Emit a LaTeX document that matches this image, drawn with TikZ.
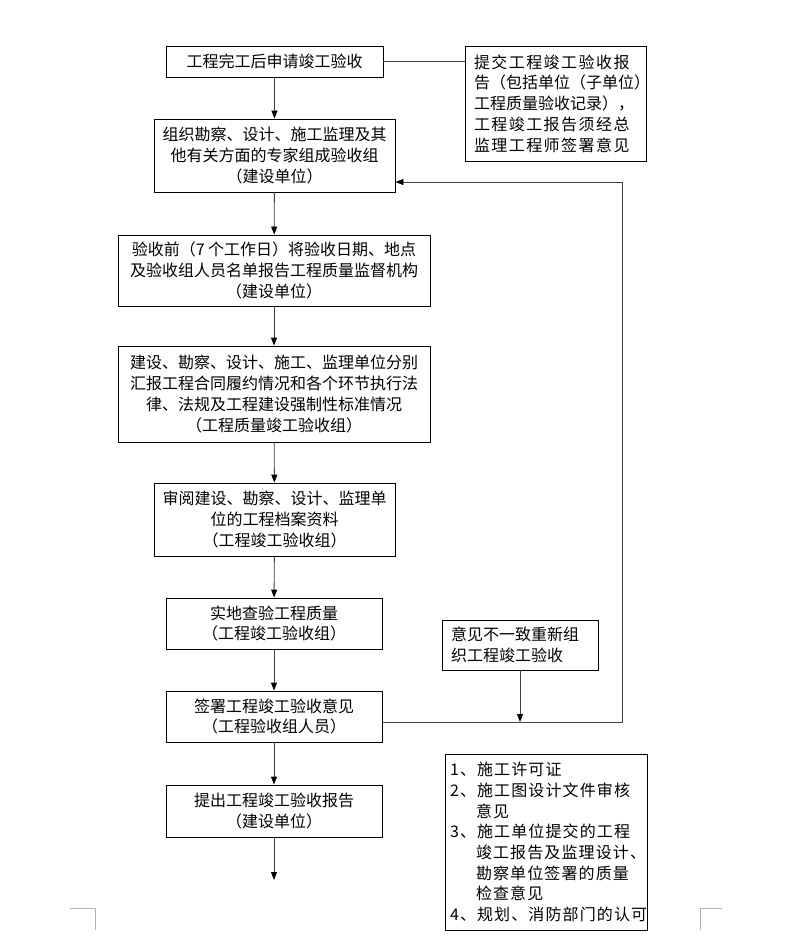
\documentclass[tikz,border=0pt]{standalone}
\usepackage{fontspec}
\setmainfont{Noto Sans CJK SC}
\newfontfamily\spacedA[LetterSpace=9]{Noto Sans CJK SC}
\newfontfamily\spacedB[LetterSpace=7]{Noto Sans CJK SC}
\usetikzlibrary{arrows.meta}
\tikzset{
  box/.style={draw=black, line width=0.9pt, rectangle, inner sep=0pt, align=center,
    font=\fontsize{16}{20.7}\selectfont},
  lbox/.style={draw=black, line width=0.9pt, rectangle, inner xsep=9pt, inner ysep=0pt, align=left,
    font=\fontsize{16}{20.7}\selectfont},
  arr/.style={draw=black!75, line width=0.9pt, -{Triangle[length=8pt,width=6pt,fill=black,color=black]}},
  ln/.style={draw=black!75, line width=0.9pt},
  cornermark/.style={draw=black!30, line width=0.8pt}
}
\begin{document}
\begin{tikzpicture}[x=1pt,y=-1pt]
\useasboundingbox (0,0) rectangle (795,940);
\fill[white] (0,0) rectangle (795,940);

\node[box, minimum width=217pt, minimum height=31pt] (B1) at (274.5,61.5) {工程完工后申请竣工验收};
\node[lbox, minimum width=181pt, minimum height=115pt, text width=163pt] (R1) at (555.5,103.5)
  {{\spacedA 提交工程竣工验收报}\\告（包括单位（子单位）\\工程质量验收记录），\\{\spacedA 工程竣工报告须经总}\\{\spacedA 监理工程师签署意见}};
\node[box, minimum width=241pt, minimum height=73pt] (B2) at (274.5,155.5)
  {组织勘察、设计、施工监理及其\\他有关方面的专家组成验收组\\（建设单位）};
\node[box, minimum width=312pt, minimum height=71pt] (B3) at (274,270.5)
  {验收前（7 个工作日）将验收日期、地点\\及验收组人员名单报告工程质量监督机构\\（建设单位）};
\node[box, minimum width=312pt, minimum height=96pt] (B4) at (274,394)
  {建设、勘察、设计、施工、监理单位分别\\汇报工程合同履约情况和各个环节执行法\\律、法规及工程建设强制性标准情况\\（工程质量竣工验收组）};
\node[box, minimum width=241pt, minimum height=73pt] (B5) at (274.5,519.5)
  {审阅建设、勘察、设计、监理单\\位的工程档案资料\\（工程竣工验收组）};
\node[box, minimum width=216pt, minimum height=51pt] (B6) at (274,623.5)
  {实地查验工程质量\\（工程竣工验收组）};
\node[box, minimum width=216pt, minimum height=51pt] (B7) at (274,716.5)
  {签署工程竣工验收意见\\（工程验收组人员）};
\node[box, minimum width=216pt, minimum height=52pt] (B8) at (274,811)
  {提出工程竣工验收报告\\（建设单位）};
\node[lbox, minimum width=156pt, minimum height=50pt, text width=138pt] (R2) at (520,645)
  {意见不一致重新组\\织工程竣工验收};
\node[lbox, minimum width=202pt, minimum height=176pt, text width=192pt, inner xsep=4pt,
  font=\fontsize{16}{20.7}\spacedB] (R3) at (546,842)
  {1、施工许可证\\2、施工图设计文件审核\\\phantom{1、}意见\\3、施工单位提交的工程\\\phantom{1、}竣工报告及监理设计、\\\phantom{1、}勘察单位签署的质量\\\phantom{1、}检查意见\\4、规划、消防部门的认可};

\coordinate (fbtop) at (622,182);
\coordinate (fbbot) at (622,722);
\coordinate (endB) at (274,880);

\draw[arr] (B1) -- (B2);
\draw[arr] (B2) -- (B3);
\draw[arr] (B3) -- (B4);
\draw[arr] (B4) -- (B5);
\draw[arr] (B5) -- (B6);
\draw[arr] (B6) -- (B7);
\draw[arr] (B7) -- (B8);
\draw[arr] (B8) -- (endB);
\draw[ln] (B1.east) -- (B1.east -| R1.west);
\draw[arr] ([yshift=-5.5pt]B7.east) -- (fbbot) -- (fbtop) -- (fbtop -| B2.east);
\draw[arr] (R2.south) -- (R2.south |- fbbot);

\draw[cornermark] (70,908) -- (95,908) -- (95,930);
\draw[cornermark] (700,930) -- (700,908) -- (722,908);
\end{tikzpicture}
\end{document}
